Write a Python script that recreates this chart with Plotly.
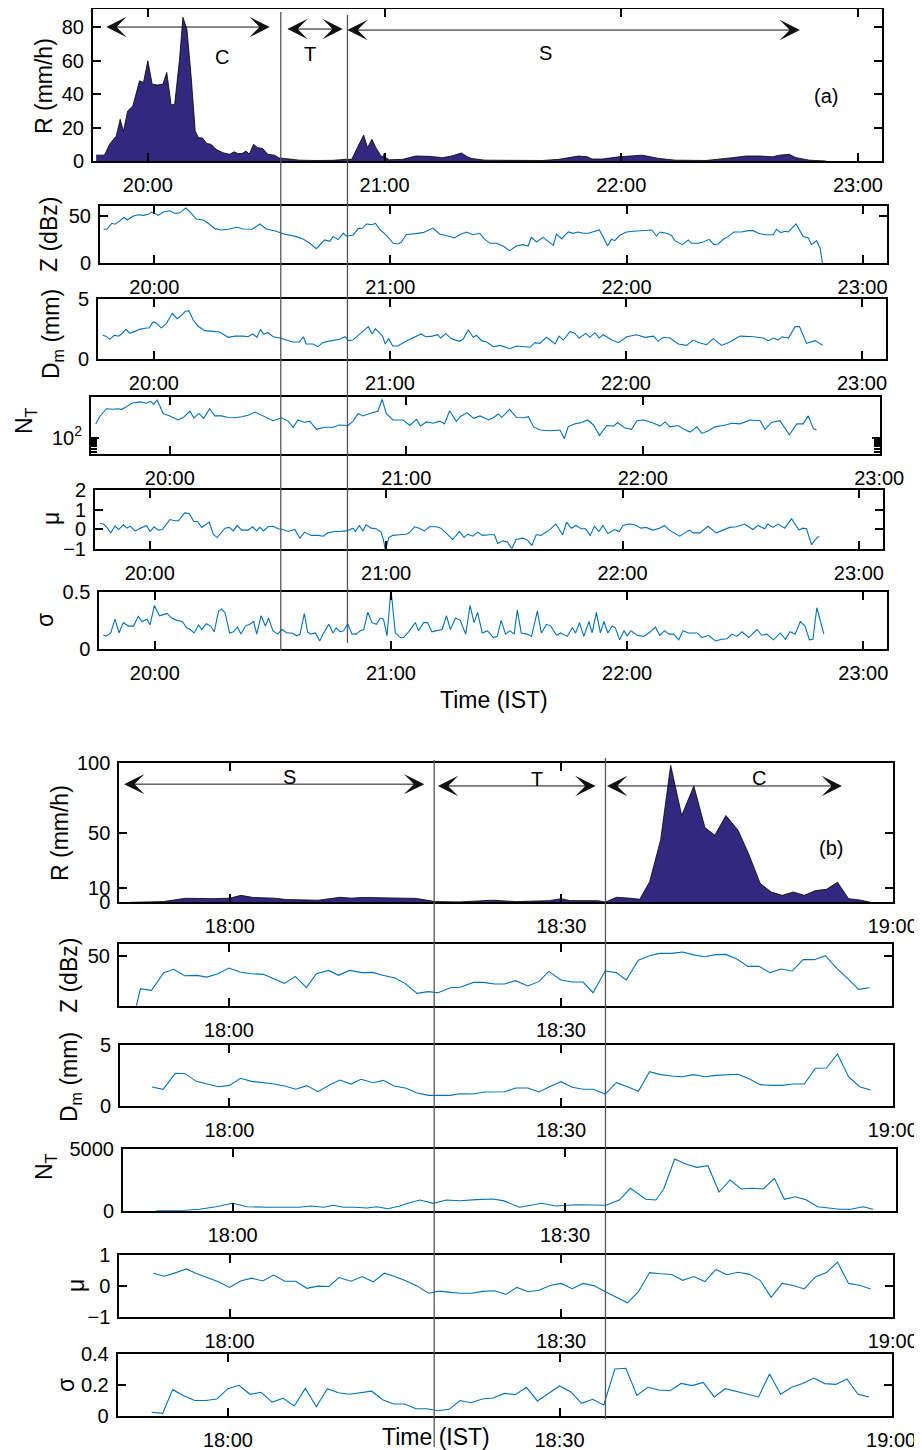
import plotly.graph_objects as go

# The page body adds an 8px margin; the figure is sized/offset to compensate.
OX, OY = 8, 8
W, H = 922 - OX, 1450 - OY
FONT = "Liberation Sans, Arial, sans-serif"
BLUE = "#0072BD"
FILL = "#33287f"


def px(x):
    return (x - OX) / W


def py(y):
    return 1 - (y - OY) / H


# ================= Event (a): time in minutes after 20:00 IST =================
r_a_t = [-13.1,-11.0,-9.7,-8.4,-8.0,-7.0,-6.2,-5.1,-3.8,-2.1,-1.1,0,1.1,2.5,3.8,4.8,5.9,6.8,8.0,8.9,
         9.9,11.0,12.0,12.8,13.9,14.9,16.0,17.3,19.0,20.7,21.9,22.8,23.9,24.9,25.7,26.8,27.8,29.1,30.4,32.1,
         33.3,35.9,38.4,42.6,46.8,50.2,51.7,52.7,54.7,55.7,56.8,57.8,59.1,59.7,59.9,60.3,61.2,64.6,67.9,71.3,
         74.7,77.0,79.5,81.0,82.1,85.5,91.4,99.9,104.2,106.7,109.2,111.4,112.6,115.2,119.4,125.3,129.6,133.8,141.4,148.2,
         151.6,155.0,158.4,160.1,162.6,164.3,167.7,171.9]
r_a = [3.5,3.5,10,14,15,25,17.7,30,33,48,47,60,46,45.5,46,53,33.5,34,60,86,
       79,50,18,14,13.7,10.5,10,7,5,4,5.5,4.5,4.5,6,4,10,8,7.5,4,3.5,
       1.8,1.2,0.5,0.3,0.4,1,1,6,15.5,8,13,8,3,2.5,4.5,2,0.7,1,3,2.8,
       2,3,4.8,2.5,1.5,0.5,0.3,0.3,1,2,3,2.5,1.2,1.2,2.5,3.5,1.5,0.5,0.3,2,
       3,3,2.5,3.5,4,2,0.5,0]

z_a_t = [-12.9,-12.1,-10.8,-10.0,-8.9,-7.7,-6.9,-5.3,-4.1,-2.8,-1.5,-0.7,-0.1,1.0,2.3,4.0,5.2,6.5,8.0,9.1,
         10.7,12.4,13.7,15.4,17.1,19.2,20.9,22.6,24.9,26.8,28.5,31.0,32.7,34.4,36.1,37.8,39.5,41.2,42.5,43.3,
         44.6,45.4,46.7,48.0,48.8,50.5,51.8,53.0,53.9,55.2,56.2,57.3,59.0,60.7,61.9,62.8,64.0,66.2,68.3,70.8,
         72.5,74.6,76.3,77.6,79.3,81.0,82.7,84.0,85.3,86.9,88.6,90.3,92.0,93.7,95.0,95.8,97.1,98.8,100.1,101.4,
         102.2,103.5,105.2,106.4,107.7,109.0,110.3,111.5,113.1,114.1,115.2,116.2,117.0,118.3,120.0,121.7,123.4,125.1,126.4,127.6,
         128.5,130.2,131.4,132.3,134.2,135.7,136.5,138.2,139.5,141.0,142.2,143.3,144.6,145.8,147.3,149.2,150.9,152.2,153.5,155.2,
         157.3,158.1,159.2,160.3,161.1,163.1,164.1,164.9,166.2,167.0,168.3,169.2,169.8]
z_a = [35.7,35.7,42,41,44,48.3,45.5,49.6,51,50.3,51.4,53.8,53,50.3,53.8,55.2,52.4,53,58,53.8,
       46.5,45.5,42,36.4,35,36,37.8,36,35.7,41.3,36,33.6,31,29.4,28,25.5,21,15.4,21,24.5,
       23,28,25,31.5,28.7,29.4,36.4,37,41.3,40.6,42,35.7,29.4,21,20.3,22.4,30,31.5,32.2,37,
       30.8,28.7,26.6,30,32.9,30,31.5,25.2,21,21,18.2,13.3,18.2,19.6,18.2,27.3,22.4,27.3,23,18.9,
       30.8,25.9,32.9,31.5,32.9,31.5,31.5,32.9,35,27.3,18.2,25.2,23.8,29.4,32.9,33.6,34.3,34.3,35,28.7,
       32.9,31.5,29.4,23.8,19.6,24.5,21,21,22.4,25.2,19.6,20.3,25.2,28,32.9,32.9,34.3,34.3,31.5,30,
       30,35.7,32.2,33.6,32.9,41.3,34.3,28,26.6,19.6,23.8,16,0]

dm_a_t = [-13.0,-12.2,-11.2,-10.1,-9.0,-8.2,-7.1,-6.1,-4.8,-3.6,-1.9,-1.2,-0.2,0.7,1.9,3.2,4.7,5.9,7.0,8.0,
          8.9,10.0,11.2,12.9,15.0,16.7,18.9,20.6,22.7,23.9,25.2,26.2,27.1,27.9,29.0,30.3,32.0,33.6,35.3,37.0,
          38.0,38.7,40.4,41.7,42.9,44.2,45.5,47.2,48.6,49.5,50.6,52.1,53.5,54.5,55.5,56.3,57.3,58.2,58.8,59.7,
          60.7,62.0,63.7,65.8,67.9,69.1,70.8,72.1,72.9,74.2,75.5,77.6,78.6,79.9,81.2,82.0,83.3,84.6,86.3,88.0,
          90.5,92.2,95.6,96.9,98.1,99.8,102.0,103.0,104.1,105.8,107.0,108.1,109.8,110.8,112.1,113.2,114.2,116.4,118.1,120.2,
          122.7,124.8,127.0,128.2,129.5,131.2,133.3,135.4,137.1,138.6,140.5,142.2,144.3,146.4,149.0,152.4,154.9,156.2,157.5,158.7,
          159.6,161.3,163.0,164.1,165.9,168.1,170.0]
dm_a = [1.97,1.9,1.63,1.97,1.9,2.08,2.47,2.13,2.3,2.47,2.58,2.58,3.09,2.98,2.58,2.98,3.82,3.37,3.65,3.99,
        4.04,3.26,2.75,2.36,2.3,2.25,1.8,1.9,1.9,1.85,2.08,1.8,2.47,2.08,2.19,1.85,1.74,1.57,1.4,1.4,
        1.85,1.24,1.24,1.01,1.35,1.46,1.52,1.63,1.85,1.52,1.57,2.02,2.42,2.7,2.08,2.53,2.19,1.85,1.24,1.69,
        1.07,1.07,1.4,1.74,2.08,1.85,1.9,2.02,1.74,2.13,1.69,1.46,1.63,2.42,1.8,1.97,1.52,1.4,1.01,1.12,
        0.84,1.07,0.96,1.35,1.29,1.8,1.24,1.9,1.57,2.3,2.13,1.74,2.13,1.8,2.19,1.74,2.02,1.57,1.35,1.85,
        2.02,1.8,1.9,1.46,1.8,1.74,1.24,1.12,1.57,1.35,1.18,1.69,1.12,1.4,1.9,1.85,1.74,1.52,1.74,1.57,
        1.85,1.74,2.7,2.7,1.29,1.52,1.12]

nt_a_t = [-18.8,-17.8,-16.1,-14.4,-13.1,-12.3,-11.0,-9.7,-7.6,-5.9,-4.9,-4.1,-3.2,-1.7,0,2.1,3.4,5.1,6.1,7.4,
          8.6,10.1,11.4,13.1,14.8,16.5,18.2,19.9,21.6,23.7,24.9,26.2,28.3,30.0,31.3,32.5,34.2,35.5,37.2,39.3,
          41.4,43.1,45.2,46.5,47.8,49.0,50.7,52.8,53.9,54.9,56.6,59.2,60.9,62.6,63.6,65.1,66.8,68.5,69.7,71.0,
          72.7,73.7,75.4,77.1,78.7,80.9,82.1,83.4,84.2,86.2,88.0,89.7,91.0,92.3,94.0,96.5,99.0,100.1,101.1,102.8,
          104.5,106.0,107.5,109.0,110.9,112.6,113.6,115.5,117.2,118.5,120.2,122.3,124.4,125.7,126.9,129.0,130.5,132.0,133.7,135.0,
          136.7,138.3,140.5,142.6,144.7,147.2,149.8,151.0,152.7,154.8,157.2,159.1,160.7,162.0,163.3,164.1]
nt_a = [320,589,1148,1096,1148,1072,1365,1820,2042,1820,2138,1698,2399,776,631,447,550,933,537,776,
        513,1148,631,631,550,537,589,661,871,631,550,422,537,407,243,447,363,407,204,243,
        243,295,282,407,776,631,776,933,2541,776,447,447,282,468,269,380,339,407,324,977,
        389,589,832,513,631,447,550,741,550,1096,550,537,589,251,193,182,193,93,257,324,
        363,447,295,123,282,269,363,229,204,422,447,363,269,380,251,282,204,162,251,145,
        182,251,282,339,324,447,422,204,363,422,129,324,324,631,214,193]

mu_a_t = [-12.6,-11.7,-10.9,-9.9,-8.8,-7.9,-6.7,-5.8,-5.0,-3.7,-2.4,-0.8,0.1,1.1,2.2,3.2,5.1,6.4,7.3,8.9,
          10.0,11.2,12.1,13.2,15.1,16.1,17.1,19.1,20.2,21.2,22.2,23.3,25.0,26.1,27.1,27.9,28.9,30.0,31.3,32.6,
          33.8,35.1,36.8,38.1,39.3,41.0,42.7,44.1,45.2,46.9,48.2,49.9,51.6,52.2,53.2,54.1,54.9,56.2,57.5,58.7,
          59.3,59.8,60.7,61.7,63.4,65.1,65.9,67.2,68.4,69.7,71.0,72.7,73.9,75.2,76.9,78.6,79.8,80.7,82.0,83.2,
          84.5,86.2,87.5,88.3,89.6,90.8,91.9,93.0,94.7,95.9,97.0,98.1,99.3,100.6,101.4,103.1,104.8,105.8,107.0,108.2,
          109.5,110.6,111.8,112.9,114.0,115.0,116.3,118.0,119.2,120.1,121.8,123.1,124.7,126.0,127.7,129.4,130.7,131.9,134.5,137.0,
          137.9,139.6,141.7,143.8,145.5,147.2,148.9,151.0,153.1,154.4,156.1,156.9,158.2,159.5,161.2,162.9,164.8,165.8,166.7,168.0,
          168.8,169.9]
mu_a = [0.29,0.26,0.09,-0.19,0.15,-0.02,0.22,0.05,0.15,-0.09,0.05,0.19,-0.12,0.12,-0.05,-0.02,0.49,0.43,0.43,0.83,
        0.80,0.39,0.39,0.09,0.36,-0.26,-0.43,0.05,0.09,-0.09,0.19,-0.05,-0.05,0.12,-0.09,0.09,-0.09,0.12,0.15,0.02,
        -0.02,-0.12,-0.02,-0.46,-0.15,-0.32,-0.32,-0.36,-0.19,-0.12,-0.12,-0.09,0.05,-0.12,0.19,-0.09,0.22,0.05,0.02,-0.15,
        -0.53,-1.07,-0.43,-0.32,-0.29,-0.26,-0.19,0.12,0.05,-0.09,0.12,0.12,0.05,-0.19,-0.53,-0.12,-0.43,-0.26,-0.36,-0.15,
        -0.32,-0.29,-0.29,-0.73,-0.60,-0.66,-1.0,-0.53,-0.46,-0.56,-0.83,-0.29,-0.32,-0.15,-0.05,0.26,-0.29,0.36,0.05,0.19,
        0.02,0.02,-0.32,0.15,-0.12,0.19,-0.22,-0.02,-0.12,0.19,0.26,0.22,0.05,0.09,-0.05,0.05,0.19,-0.05,-0.36,-0.05,
        -0.19,-0.19,0.15,-0.19,-0.05,0.09,0.12,0.26,-0.02,0.19,0.02,0.26,0.09,0.26,0.05,0.53,-0.05,0.05,0.02,-0.8,
        -0.56,-0.36]

sg_a_t = [-13.1,-12.2,-11.2,-10.1,-9.1,-8.0,-6.7,-5.4,-4.2,-3.3,-2.0,-1.2,-0.1,1.2,2.2,3.1,4.3,5.6,7.0,8.1,
          9.0,10.0,11.1,11.9,13.1,14.2,15.1,16.2,17.0,17.9,19.0,20.0,21.0,21.9,23.0,24.1,25.1,25.9,27.0,28.1,
          28.9,30.0,31.2,32.3,33.6,34.8,36.1,36.9,38.0,38.8,39.7,40.8,41.9,42.9,44.2,45.3,46.1,47.1,48.0,49.0,
          50.1,51.2,52.2,53.1,54.1,55.2,56.3,57.3,58.1,59.0,60.0,61.1,62.4,63.2,64.5,66.2,67.0,68.3,69.3,70.4,
          71.7,73.0,74.1,75.1,76.4,77.6,79.0,80.1,81.1,82.0,83.2,84.5,86.0,87.0,88.0,89.1,90.2,91.3,92.1,93.1,
          94.6,95.7,97.2,98.2,99.5,100.6,102.1,103.1,104.8,106.1,106.9,107.9,109.0,110.3,111.1,112.2,113.2,114.1,115.1,116.2,
          117.0,118.1,119.2,120.0,121.0,122.5,124.2,125.9,127.2,128.3,129.5,130.6,131.8,133.1,134.2,135.6,137.8,139.0,140.7,142.4,
          144.1,145.4,146.6,147.9,149.2,150.9,153.0,154.2,155.5,157.2,158.9,160.2,161.4,162.7,164.0,165.2,166.3,167.2,168.2,170.0]
sg_a = [0.12,0.115,0.14,0.26,0.14,0.23,0.20,0.20,0.285,0.24,0.26,0.21,0.38,0.29,0.30,0.31,0.27,0.25,0.24,0.185,
        0.17,0.14,0.21,0.17,0.22,0.20,0.15,0.33,0.35,0.31,0.14,0.15,0.19,0.13,0.20,0.215,0.24,0.13,0.29,0.20,
        0.27,0.16,0.13,0.17,0.14,0.14,0.115,0.13,0.31,0.15,0.13,0.14,0.07,0.14,0.215,0.14,0.185,0.15,0.16,0.22,
        0.13,0.13,0.16,0.17,0.32,0.23,0.215,0.27,0.26,0.115,0.52,0.14,0.10,0.10,0.15,0.23,0.16,0.23,0.23,0.15,
        0.16,0.17,0.29,0.17,0.27,0.25,0.13,0.38,0.23,0.32,0.14,0.16,0.10,0.11,0.25,0.13,0.16,0.13,0.34,0.14,
        0.13,0.11,0.33,0.14,0.215,0.20,0.12,0.14,0.11,0.185,0.14,0.23,0.11,0.24,0.14,0.32,0.14,0.24,0.14,0.20,
        0.185,0.08,0.16,0.115,0.16,0.12,0.11,0.15,0.19,0.12,0.16,0.13,0.13,0.08,0.16,0.14,0.14,0.10,0.12,0.07,
        0.085,0.09,0.13,0.11,0.15,0.10,0.17,0.12,0.13,0.08,0.14,0.085,0.15,0.13,0.24,0.20,0.08,0.085,0.36,0.13]

# transitions and regime arrows for (a) (minutes after 20:00; y in mm/h)
trans_a = [33.7, 50.6]
regimes_a = ["C", "T", "S"]
arrow_a = [(-10.9, 30.9, 80.2), (35.0, 49.4, 79.0), (50.2, 165.3, 78.4)]
label_a = [(18.8, 62.3), (41.1, 64.0), (100.7, 64.7)]

# ================= Event (b): time in minutes after 18:00 IST =================
r_b_t = [-9,-6,-4,-2.7,-1.5,0,1,2.1,4,5.1,6.3,8,10,11,12,13.9,16,16.9,18.6,20.8,
         23.8,25.9,28.9,30,30.8,33.3,34,35,36,37.1,38,39,39.9,40.9,42,43,43.9,44.9,46,47,
         48,49,50,51,52,53,54,55,56,57,58]
r_b = [0,0.5,2.9,2.5,2.6,3,5,3.5,3,2,2,1.5,3.6,3,3.5,3.2,3.2,2.8,0.5,0.3,
       1.5,0.5,1.2,2.6,1.2,1.2,0.2,3.6,3.1,2.2,14.8,45.2,98.6,62.4,83.7,53.8,48.3,62.4,51.9,34,
       13.6,7.4,5,7.4,5,8.4,9.3,14.4,2.6,1.7,0]

z_b_t = [-8.5,-8.0,-7.0,-5.9,-5.0,-4.0,-2.9,-2.0,-1.0,0,1.0,2.0,3.1,4.0,5.0,6.0,7.0,7.9,9.0,9.9,
         10.9,12.0,13.0,13.9,15.0,15.9,17.0,18.0,18.9,20.0,20.9,22.1,23.0,24.0,24.9,25.9,27.0,28.0,28.9,30.0,
         31.0,32.0,32.9,34.0,35.0,35.9,37.0,38.0,38.9,40.0,41.0,41.9,43.0,44.0,44.9,45.9,46.9,47.9,48.9,49.9,
         50.9,51.9,52.9,53.9,55.0,56.0,56.9,57.9]
z_b = [5,23.8,22.4,36.8,39.5,34.3,34.6,33.2,35.9,40.5,37.3,35.9,35.4,32.2,28.1,33.8,24.6,35.9,38.6,34.6,
       38.6,36.8,37,34.6,32.4,28.1,20,21.4,20.5,24.6,24.9,28.9,28.9,27.6,27.6,30.3,26,29.5,37.8,30.8,
       29.2,29.2,20.5,38.1,36.8,30.8,46.8,50.5,52.4,52.4,53.5,51.4,49.7,51.4,51.6,47.8,41.9,41.9,36.8,39.7,
       38.1,47.3,47.3,50.5,39.7,31.4,23.2,24.6]

dm_b_t = [-7.0,-6.0,-4.9,-4.0,-3.0,-2.0,-1.0,0,1.0,2.0,3.0,3.9,5.0,6.0,7.0,8.0,9.1,10.0,11.0,11.9,
          13.0,13.9,14.9,16.0,16.9,18.0,19.0,20.0,20.8,22.0,23.1,24.9,25.9,27.0,28.0,28.9,30.0,31.0,32.0,32.9,
          34.0,35.0,36.0,37.0,38.0,39.0,40.0,40.9,42.0,43.0,44.0,46.0,47.0,48.0,49.0,50.0,51.0,52.0,53.0,54.0,
          55.0,56.0,57.0,58.0]
dm_b = [1.56,1.37,2.68,2.65,2.02,1.78,1.58,1.69,2.27,2.02,1.91,1.83,1.64,1.37,1.67,1.17,1.75,2.13,1.80,2.19,
        1.91,2.10,1.64,1.45,1.09,0.87,0.87,0.87,1.0,0.98,1.15,1.17,1.48,1.48,1.15,1.56,1.99,1.53,1.37,1.37,
        0.98,1.91,1.58,1.20,2.81,2.57,2.46,2.40,2.57,2.40,2.51,2.60,2.24,1.75,1.69,1.69,1.80,1.80,3.09,3.11,
        4.26,2.40,1.58,1.31]

nt_b_t = [-6.9,-5.9,-4.5,-3.0,-1.5,0,1.3,3.1,4.9,6.0,7.1,8.2,9.1,10.0,11.0,12.1,13.0,14.0,15.1,15.8,
          16.9,18.1,19.3,20.5,22.0,23.5,24.5,25.9,27.9,29.2,31.0,33.7,34.9,35.9,37.3,38.2,38.9,39.9,40.9,41.9,
          42.9,43.9,44.9,45.9,46.9,47.9,48.9,49.8,50.8,51.8,52.8,54.8,55.8,56.9,57.8]
nt_b = [10,15,20,114,326,600,326,277,277,277,383,277,440,277,277,220,326,163,383,600,
        870,600,870,814,900,950,800,280,600,380,490,440,870,1823,928,870,1742,4208,3801,3530,
        3665,1522,2500,1767,1823,1767,2638,928,1140,870,326,114,114,326,114]

mu_b_t = [-6.9,-5.9,-4.9,-3.9,-3.0,-2.0,-1.0,0,1.0,2.0,3.0,4.0,5.0,6.0,7.0,8.0,9.0,9.9,11.0,12.0,
          13.0,14.0,14.9,16.0,17.0,18.0,19.0,20.0,20.8,21.9,22.9,24.0,25.0,26.0,27.0,28.0,29.0,30.0,31.0,32.0,
          33.0,34.0,35.0,36.0,37.0,38.0,39.0,40.0,41.0,42.0,43.0,44.0,45.0,46.0,47.0,48.0,49.0,50.0,51.0,52.0,
          53.0,54.0,55.0,56.0,57.0,58.0]
mu_b = [0.41,0.31,0.42,0.55,0.40,0.27,0.13,-0.05,0.16,0.25,0.16,0.35,0.15,0.15,-0.08,-0.01,-0.02,0.27,0.15,0.30,
        0.13,0.41,0.31,0.16,-0.01,-0.24,-0.17,-0.21,-0.24,-0.24,-0.18,-0.16,-0.28,-0.05,-0.19,-0.14,0.01,0.08,-0.09,0.08,
        0,-0.19,-0.36,-0.55,-0.19,0.43,0.39,0.37,0.18,0.30,0.14,0.53,0.36,0.44,0.38,0.18,-0.37,0.08,0.01,-0.10,
        0.29,0.43,0.77,0.08,0.02,-0.10]

sg_b_t = [-6.9,-5.9,-5.0,-4.0,-3.0,-2.0,-1.0,0,1.0,2.0,3.0,4.0,5.0,6.0,7.0,8.0,9.0,10.0,11.0,12.0,
          13.0,14.0,15.0,16.0,17.0,18.0,19.0,20.0,21.0,22.0,23.0,24.0,25.0,26.0,27.0,28.0,29.0,30.0,31.0,32.0,
          33.0,34.0,35.0,36.0,37.0,38.0,39.0,40.0,41.0,42.0,43.0,44.0,45.0,46.0,47.0,48.0,49.0,50.0,51.0,52.0,
          53.0,54.0,55.0,56.0,57.0,58.0]
sg_b = [0.024,0.017,0.17,0.13,0.10,0.10,0.11,0.176,0.198,0.14,0.153,0.09,0.114,0.065,0.178,0.06,0.176,0.15,0.14,0.15,
        0.16,0.105,0.077,0.077,0.047,0.047,0.034,0.043,0.10,0.086,0.11,0.116,0.146,0.138,0.185,0.097,0.146,0.194,0.157,0.082,
        0.108,0.071,0.303,0.308,0.133,0.185,0.168,0.163,0.21,0.196,0.217,0.123,0.176,0.157,0.138,0.123,0.271,0.14,0.185,0.209,
        0.245,0.209,0.204,0.239,0.14,0.123]

trans_b = [18.5, 34.0]
regimes_b = ["S", "T", "C"]
arrow_b = [(-9.7, 17.6, 85.0), (18.7, 33.1, 83.7), (34.0, 55.4, 83.7)]
label_b = [(5.4, 90.0), (27.8, 88.6), (47.9, 89.3)]

# tick labels
xt_a = [0, 60, 120, 180]
xl_a = ["20:00", "21:00", "22:00", "23:00"]
xt_b = [0, 30, 60]
xl_b = ["18:00", "18:30", "19:00"]

# ================= layout of the 12 panels (page pixel boxes) =================
# (left, right, top, bottom, xrange, yrange, ytickvals, yticktext, ytype, title, title_x, title_y)
panels = [
    (93, 882, 9, 161, [-13.9, 186.1], [0, 91], [0, 20, 40, 60, 80], None, "linear", "R (mm/h)", 44, 86),
    (100, 887, 205.7, 263.3, [-13.8, 186.2], [0, 60.5], [0, 50], None, "linear", "Z (dBz)", 49, 235),
    (98, 886, 299.3, 358.7, [-14.2, 186.1], [0, 5], [0, 5], None, "linear", "D<sub>m</sub> (mm)", 52, 334),
    (91, 880, 396.7, 454.3, [-20, 180.2], [1.4, 3.5], [100], ["10<sup>2</sup>"], "log", "N<sub>T</sub>", 25, 421),
    (95, 883.3, 490, 548.7, [-13.9, 186.2], [-1, 2], [-1, 0, 1, 2], None, "linear", "μ", 51, 519),
    (99.3, 887.3, 591.7, 649, [-14.1, 186.1], [0, 0.5], [0, 0.5], None, "linear", "σ", 45, 620),
    (119.3, 893.3, 763.3, 902.3, [-10, 60.05], [0, 100], [0, 10, 50, 100], None, "linear", "R (mm/h)", 60, 833),
    (119, 892.3, 944, 1005.7, [-9.94, 59.95], [10, 60], [50], None, "linear", "Z (dBz)", 69, 976),
    (120, 893.3, 1045, 1106, [-9.9, 60.05], [0, 5], [0, 5], None, "linear", "D<sub>m</sub> (mm)", 70, 1077),
    (123, 895.7, 1149.3, 1210.7, [-9.9, 59.85], [0, 5000], [0, 5000], None, "linear", "N<sub>T</sub>", 45, 1167),
    (119.3, 893.3, 1255, 1316.7, [-9.97, 60.05], [-1, 1], [-1, 0, 1], None, "linear", "μ", 76, 1286),
    (117.7, 891.7, 1354, 1416, [-9.97, 60.05], [0, 0.4], [0, 0.2, 0.4], None, "linear", "σ", 66, 1385),
]
nt_minor_ticks = [30, 40, 50, 60, 70, 80, 90]

series = [
    (r_a_t, r_a), (z_a_t, z_a), (dm_a_t, dm_a), (nt_a_t, nt_a), (mu_a_t, mu_a), (sg_a_t, sg_a),
    (r_b_t, r_b), (z_b_t, z_b), (dm_b_t, dm_b), (nt_b_t, nt_b), (mu_b_t, mu_b), (sg_b_t, sg_b),
]

fig = go.Figure()
layout = {}
annotations = []
tick_font = dict(family=FONT, size=20, color="black")

for i, (p, (xs, ys)) in enumerate(zip(panels, series), start=1):
    l, r, t, b, xr, yr, ytv, ytt, ytype, title, tx, ty = p
    xk = "xaxis" if i == 1 else f"xaxis{i}"
    yk = "yaxis" if i == 1 else f"yaxis{i}"
    xref = "x" if i == 1 else f"x{i}"
    yref = "y" if i == 1 else f"y{i}"
    is_a = i <= 6
    layout[xk] = dict(
        domain=[px(l), px(r)], anchor=yref, range=xr, automargin=False,
        tickmode="array", tickvals=xt_a if is_a else xt_b, ticktext=xl_a if is_a else xl_b,
        ticks="inside", ticklen=8, tickwidth=2, tickcolor="black",
        showline=True, linecolor="black", linewidth=2, mirror="ticks",
        showgrid=False, zeroline=False, tickfont=tick_font, ticklabelstandoff=5,
    )
    yax = dict(
        domain=[py(b), py(t)], anchor=xref, range=yr, type=ytype, automargin=False,
        tickmode="array", tickvals=ytv,
        ticks="inside", ticklen=8, tickwidth=2, tickcolor="black",
        showline=True, linecolor="black", linewidth=2, mirror="ticks",
        showgrid=False, zeroline=False, tickfont=tick_font, ticklabelstandoff=3,
    )
    if ytt is not None:
        yax["ticktext"] = ytt
    if ytype == "log":
        yax["minor"] = dict(tickmode="array", tickvals=nt_minor_ticks, ticks="inside",
                            ticklen=6, tickwidth=2, tickcolor="black", showgrid=False)
    layout[yk] = yax

    if i in (1, 7):
        fig.add_trace(go.Scatter(x=xs, y=ys, mode="lines", fill="tozeroy", fillcolor=FILL,
                                 line=dict(color="black", width=0.8), xaxis=xref, yaxis=yref,
                                 showlegend=False))
    else:
        fig.add_trace(go.Scatter(x=xs, y=ys, mode="lines", line=dict(color=BLUE, width=1.1),
                                 xaxis=xref, yaxis=yref, showlegend=False))

    annotations.append(dict(text=title, x=px(tx), y=py(ty), xref="paper", yref="paper",
                            showarrow=False, textangle=-90, xanchor="center", yanchor="middle",
                            font=dict(family=FONT, size=23, color="black")))


# regime arrows and labels
def add_regimes(arrows, labels, names, xref, yref):
    for (x0, x1, y) in arrows:
        annotations.append(dict(x=x1, y=y, ax=x0, ay=y, xref=xref, yref=yref, axref=xref, ayref=yref,
                                text="", showarrow=True, arrowhead=3, startarrowhead=3,
                                arrowside="end+start", arrowsize=3.4, startarrowsize=3.4,
                                arrowwidth=1, arrowcolor="#111"))
    for (x, y), n in zip(labels, names):
        annotations.append(dict(x=x, y=y, xref=xref, yref=yref, text=n, showarrow=False,
                                font=dict(family=FONT, size=20, color="black")))


add_regimes(arrow_a, label_a, regimes_a, "x", "y")
add_regimes(arrow_b, label_b, regimes_b, "x7", "y7")
annotations.append(dict(x=171.9, y=39, xref="x", yref="y", text="(a)", showarrow=False,
                        font=dict(family=FONT, size=20, color="black")))
annotations.append(dict(x=54.4, y=39, xref="x7", yref="y7", text="(b)", showarrow=False,
                        font=dict(family=FONT, size=20, color="black")))

for (x, y) in [(494, 700), (436, 1437)]:
    annotations.append(dict(x=px(x), y=py(y), xref="paper", yref="paper", text="Time (IST)",
                            showarrow=False, xanchor="center", yanchor="middle",
                            font=dict(family=FONT, size=23, color="black")))

# transition lines (paper-spanning)
shapes = []
for t, (ytop, ybot) in zip(trans_a, [(12, 651), (15, 643)]):
    shapes.append(dict(type="line", xref="x", yref="paper", x0=t, x1=t,
                       y0=py(ybot), y1=py(ytop), line=dict(color="#555", width=1.3)))
for t, (ytop, ybot) in zip(trans_b, [(760, 1447), (758, 1419)]):
    shapes.append(dict(type="line", xref="x7", yref="paper", x0=t, x1=t,
                       y0=py(ybot), y1=py(ytop), line=dict(color="#555", width=1.3)))

fig.update_layout(
    template="none",
    width=W, height=H, margin=dict(l=0, r=0, t=0, b=0, pad=0), autosize=False,
    paper_bgcolor="white", plot_bgcolor="white",
    annotations=annotations, shapes=shapes, showlegend=False,
    font=dict(family=FONT, color="black"),
    **layout,
)
fig.write_html("out.html")
